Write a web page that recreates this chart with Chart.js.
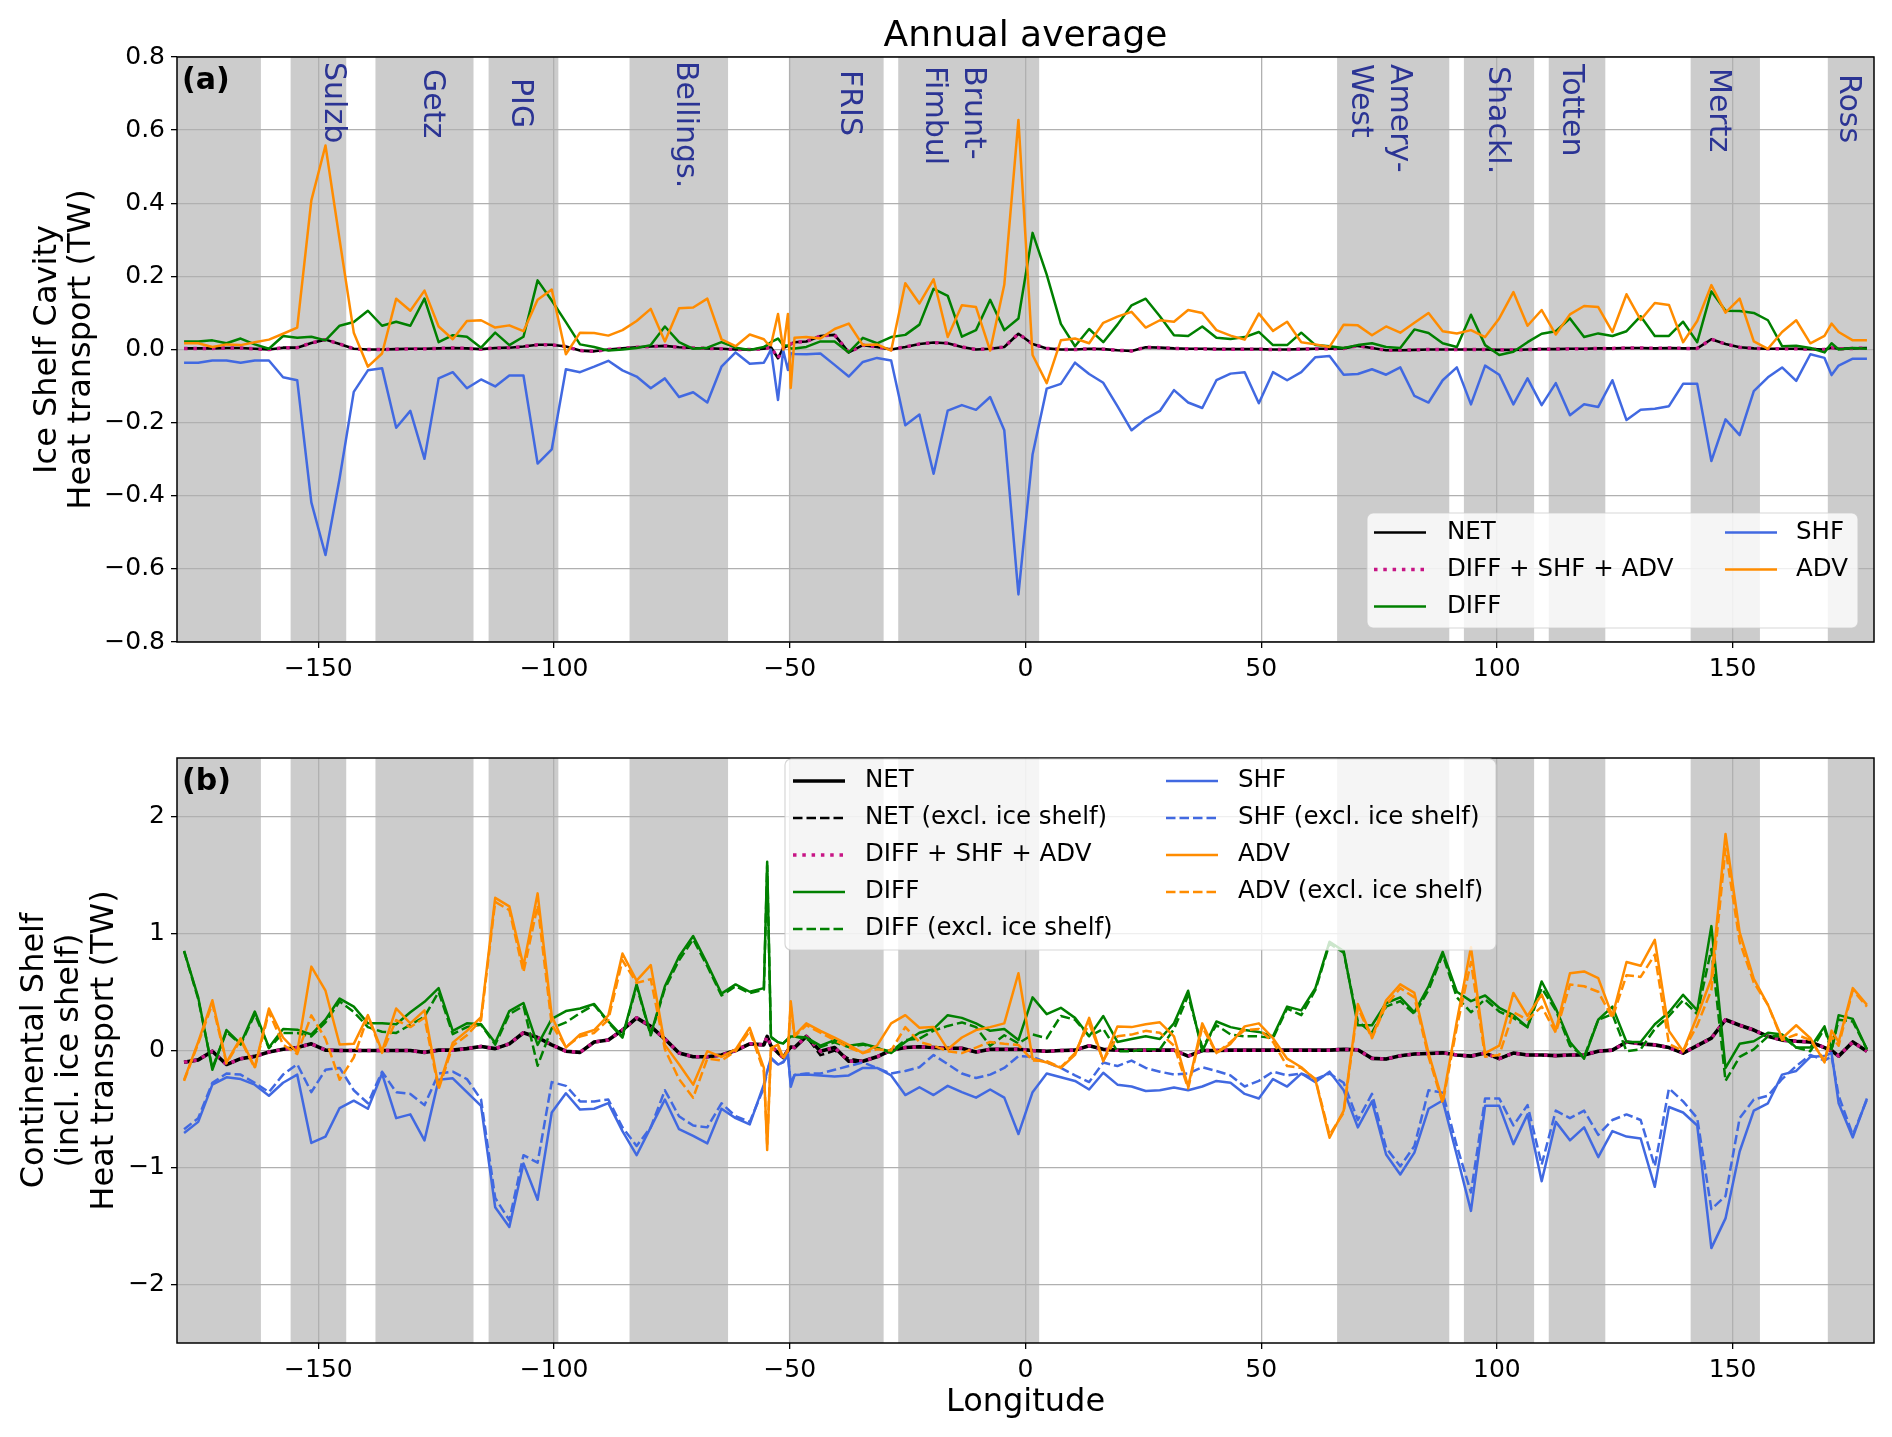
<!DOCTYPE html>
<html>
<head>
<meta charset="utf-8">
<title>Annual average</title>
<script src="https://cdn.jsdelivr.net/npm/chart.js@4.4.1/dist/chart.umd.min.js"></script>
<style>
  body { margin: 0; background: #fff; }
  #wrap { position: relative; width: 1892px; height: 1437px; }
  canvas { position: absolute; left: 0; }
</style>
</head>
<body>
<div id="wrap">
  <canvas id="panelA" width="1892" height="700" style="top:0px"></canvas>
  <canvas id="panelB" width="1892" height="737" style="top:700px"></canvas>
</div>
<script>
// longitude of every sample (3 degree bins, a few extra points round -52 and 171)
const lon = [
  -178.5, -175.5, -172.5, -169.5, -166.5, -163.5, -160.5, -157.5, -154.5, -151.5,
  -148.5, -145.5, -142.5, -139.5, -136.5, -133.5, -130.5, -127.5, -124.5, -121.5,
  -118.5, -115.5, -112.5, -109.5, -106.5, -103.5, -100.5, -97.5, -94.5, -91.5,
  -88.5, -85.5, -82.5, -79.5, -76.5, -73.5, -70.5, -67.5, -64.5, -61.5, -58.5, -55.5,
  -54.8, -54.0, -52.5, -51.4, -50.4, -49.8, -49.0,
  -46.5, -43.5, -40.5, -37.5, -34.5, -31.5, -28.5, -25.5, -22.5, -19.5, -16.5, -13.5, -10.5, -7.5, -4.5, -1.5,
  1.5, 4.5, 7.5, 10.5, 13.5, 16.5, 19.5, 22.5, 25.5, 28.5, 31.5, 34.5, 37.5, 40.5, 43.5,
  46.5, 49.5, 52.5, 55.5, 58.5, 61.5, 64.5, 67.5, 70.5, 73.5, 76.5, 79.5, 82.5, 85.5, 88.5,
  91.5, 94.5, 97.5, 100.5, 103.5, 106.5, 109.5, 112.5, 115.5, 118.5, 121.5, 124.5, 127.5, 130.5,
  133.5, 136.5, 139.5, 142.5, 145.5, 148.5, 151.5, 154.5, 157.5, 160.5, 163.5, 166.5, 169.5,
  171.0,
  172.5, 175.5, 178.5
];

// (a) ice shelf cavity, TW
const netA = [
  0.003, 0.003, 0.003, 0.004, 0.004, 0.002, 0.000, 0.005, 0.005, 0.018,
  0.027, 0.015, 0.002, 0.000, 0.000, 0.001, 0.002, 0.002, 0.003, 0.004,
  0.003, 0.001, 0.004, 0.005, 0.008, 0.013, 0.013, 0.008, -0.003, -0.005,
  0.000, 0.003, 0.006, 0.008, 0.010, 0.006, 0.004, 0.003, 0.002, 0.000, 0.000, 0.002,
  0.004, 0.006, -0.024, 0.004, 0.010, 0.015, 0.020,
  0.022, 0.037, 0.040, -0.008, 0.012, 0.007, 0.000, 0.007, 0.015, 0.019, 0.017, 0.007, 0.000, 0.002, 0.007, 0.043,
  0.015, 0.003, 0.000, 0.000, 0.002, 0.001, -0.002, -0.004, 0.006, 0.005, 0.003, 0.002, 0.002, 0.001, 0.001,
  0.001, 0.001, 0.000, 0.000, 0.001, 0.002, 0.002, 0.003, 0.010, 0.004, -0.002, -0.002, -0.001, 0.000, 0.000,
  0.000, 0.000, 0.000, -0.001, -0.001, 0.000, 0.001, 0.001, 0.002, 0.002, 0.003, 0.003, 0.004, 0.004,
  0.003, 0.004, 0.003, 0.003, 0.028, 0.015, 0.006, 0.003, 0.002, 0.002, 0.002, 0.001, 0.000,
  0.005,
  0.002, 0.003, 0.004
];
const diffA = [
  0.022, 0.022, 0.025, 0.017, 0.030, 0.014, 0.002, 0.037, 0.032, 0.035,
  0.025, 0.065, 0.075, 0.106, 0.065, 0.076, 0.065, 0.139, 0.020, 0.039,
  0.035, 0.005, 0.046, 0.012, 0.035, 0.189, 0.134, 0.075, 0.014, 0.007,
  -0.003, 0.000, 0.004, 0.012, 0.063, 0.020, 0.002, 0.005, 0.020, 0.005, -0.001, 0.007,
  0.012, 0.020, 0.030, 0.012, 0.010, 0.003, 0.003,
  0.007, 0.022, 0.022, -0.008, 0.032, 0.017, 0.034, 0.040, 0.068, 0.166, 0.147, 0.035, 0.053, 0.136, 0.053, 0.085,
  0.319, 0.205, 0.070, 0.009, 0.056, 0.020, 0.068, 0.121, 0.139, 0.091, 0.039, 0.037, 0.063, 0.032, 0.029,
  0.034, 0.048, 0.012, 0.012, 0.046, 0.012, 0.009, 0.004, 0.012, 0.017, 0.007, 0.004, 0.055, 0.045, 0.017,
  0.007, 0.095, 0.012, -0.015, -0.006, 0.020, 0.043, 0.050, 0.085, 0.034, 0.044, 0.037, 0.050, 0.091,
  0.037, 0.037, 0.076, 0.020, 0.159, 0.106, 0.105, 0.100, 0.080, 0.009, 0.010, 0.004, -0.008,
  0.017,
  0.000, 0.004, 0.002
];
const shfA = [
  -0.036, -0.036, -0.030, -0.030, -0.036, -0.030, -0.030, -0.076, -0.084, -0.418,
  -0.562, -0.352, -0.116, -0.057, -0.051, -0.214, -0.168, -0.299, -0.079, -0.062,
  -0.106, -0.082, -0.101, -0.071, -0.071, -0.312, -0.273, -0.054, -0.062, -0.047,
  -0.031, -0.057, -0.074, -0.106, -0.079, -0.130, -0.117, -0.145, -0.047, -0.008, -0.039, -0.036,
  -0.020, 0.000, -0.138, -0.002, -0.056, -0.010, -0.012,
  -0.013, -0.011, -0.042, -0.074, -0.034, -0.023, -0.030, -0.207, -0.178, -0.340, -0.167, -0.152, -0.165, -0.130, -0.221, -0.670,
  -0.287, -0.107, -0.094, -0.036, -0.067, -0.091, -0.155, -0.221, -0.190, -0.168, -0.111, -0.145, -0.160, -0.084, -0.066,
  -0.062, -0.147, -0.062, -0.084, -0.062, -0.021, -0.018, -0.069, -0.067, -0.054, -0.069, -0.049, -0.127, -0.145, -0.084,
  -0.049, -0.150, -0.044, -0.069, -0.150, -0.079, -0.152, -0.092, -0.180, -0.150, -0.157, -0.084, -0.193, -0.165,
  -0.162, -0.155, -0.094, -0.094, -0.305, -0.191, -0.234, -0.114, -0.076, -0.049, -0.086, -0.013, -0.023,
  -0.070,
  -0.044, -0.025, -0.025
];
const advA = [
  0.017, 0.017, 0.007, 0.014, 0.012, 0.020, 0.027, 0.043, 0.060, 0.408,
  0.558, 0.300, 0.046, -0.047, -0.011, 0.139, 0.106, 0.161, 0.063, 0.028,
  0.078, 0.080, 0.060, 0.066, 0.050, 0.136, 0.164, -0.013, 0.046, 0.045,
  0.038, 0.053, 0.078, 0.111, 0.022, 0.113, 0.115, 0.139, 0.028, 0.009, 0.041, 0.028,
  0.017, 0.012, 0.097, 0.000, 0.097, -0.105, 0.032,
  0.034, 0.030, 0.056, 0.071, 0.012, 0.014, -0.003, 0.181, 0.126, 0.192, 0.034, 0.121, 0.116, -0.003, 0.177, 0.628,
  -0.015, -0.092, 0.025, 0.030, 0.017, 0.073, 0.090, 0.103, 0.060, 0.080, 0.076, 0.108, 0.100, 0.053, 0.038,
  0.027, 0.098, 0.051, 0.076, 0.020, 0.014, 0.007, 0.068, 0.066, 0.039, 0.063, 0.046, 0.073, 0.100, 0.050,
  0.044, 0.053, 0.034, 0.085, 0.157, 0.065, 0.108, 0.041, 0.096, 0.119, 0.116, 0.048, 0.151, 0.081,
  0.127, 0.122, 0.020, 0.078, 0.176, 0.101, 0.139, 0.022, 0.002, 0.048, 0.080, 0.017, 0.037,
  0.071,
  0.048, 0.025, 0.025
];

// (b) continental shelf incl. ice shelf, TW ("x" = excl. ice shelf)
const netB = [
  -0.100, -0.080, -0.006, -0.120, -0.070, -0.050, -0.013, 0.010, 0.025, 0.057,
  0.003, 0.000, 0.000, 0.000, 0.000, 0.000, 0.000, -0.016, 0.003, 0.003,
  0.016, 0.035, 0.016, 0.057, 0.152, 0.111, 0.048, -0.006, -0.016, 0.073,
  0.089, 0.175, 0.279, 0.206, 0.098, -0.022, -0.054, -0.054, -0.038, 0.000, 0.057, 0.048,
  0.120, 0.040, -0.020, -0.060, 0.000, 0.030, 0.025,
  0.121, -0.006, 0.025, -0.092, -0.092, -0.054, 0.003, 0.025, 0.032, 0.025, 0.019, 0.019, -0.013, 0.010, 0.010, 0.010,
  0.000, -0.006, 0.000, 0.003, 0.041, 0.010, 0.003, 0.003, 0.003, 0.003, 0.003, -0.048, 0.000, 0.000, 0.003,
  0.003, 0.003, 0.003, 0.003, 0.003, 0.003, 0.003, 0.010, 0.006, -0.067, -0.073, -0.045, -0.030, -0.025, -0.020,
  -0.038, -0.048, -0.022, -0.070, -0.022, -0.038, -0.038, -0.044, -0.038, -0.038, -0.006, 0.003, 0.073, 0.057,
  0.048, 0.025, -0.022, 0.041, 0.105, 0.263, 0.216, 0.175, 0.121, 0.089, 0.079, 0.073, 0.025,
  0.000,
  -0.048, 0.073, -0.006
];
const netBx = [
  -0.100, -0.080, -0.006, -0.120, -0.070, -0.050, -0.013, 0.010, 0.025, 0.057,
  0.003, 0.000, 0.000, 0.000, 0.000, 0.000, 0.000, -0.016, 0.003, 0.003,
  0.016, 0.035, 0.016, 0.057, 0.152, 0.111, 0.048, -0.006, -0.016, 0.073,
  0.089, 0.175, 0.279, 0.206, 0.098, -0.022, -0.054, -0.054, -0.038, 0.000, 0.057, 0.048,
  0.120, 0.040, -0.020, -0.060, 0.000, 0.030, 0.025,
  0.121, -0.040, 0.000, -0.070, -0.092, -0.054, 0.003, 0.025, 0.032, 0.025, 0.019, 0.019, -0.013, 0.010, 0.010, 0.010,
  0.000, -0.006, 0.000, 0.003, 0.041, 0.010, 0.003, 0.003, 0.003, 0.003, 0.003, -0.048, 0.000, 0.000, 0.003,
  0.003, 0.003, 0.003, 0.003, 0.003, 0.003, 0.003, 0.010, 0.006, -0.067, -0.073, -0.045, -0.030, -0.025, -0.020,
  -0.038, -0.048, -0.022, -0.070, -0.022, -0.038, -0.038, -0.044, -0.038, -0.038, -0.006, 0.003, 0.073, 0.057,
  0.048, 0.025, -0.022, 0.041, 0.105, 0.263, 0.216, 0.175, 0.121, 0.089, 0.079, 0.073, 0.025,
  0.000,
  -0.048, 0.073, -0.006
];
const diffB = [
  0.851, 0.454, -0.165, 0.175, 0.057, 0.333, 0.025, 0.184, 0.178, 0.137,
  0.263, 0.444, 0.375, 0.232, 0.232, 0.225, 0.327, 0.416, 0.533, 0.168,
  0.232, 0.225, 0.067, 0.337, 0.406, 0.048, 0.270, 0.337, 0.359, 0.397,
  0.248, 0.121, 0.565, 0.137, 0.549, 0.803, 0.978, 0.740, 0.486, 0.565, 0.502, 0.533,
  1.614, 0.118, 0.070, 0.060, 0.100, 0.120, 0.120,
  0.111, 0.041, 0.089, 0.041, 0.057, 0.025, -0.022, 0.073, 0.152, 0.184, 0.302, 0.279, 0.232, 0.168, 0.184, 0.089,
  0.454, 0.311, 0.365, 0.279, 0.121, 0.295, 0.073, 0.098, 0.121, 0.098, 0.232, 0.511, -0.006, 0.248, 0.200,
  0.175, 0.159, 0.121, 0.375, 0.343, 0.533, 0.930, 0.851, 0.216, 0.216, 0.406, 0.454, 0.327, 0.549, 0.843,
  0.502, 0.422, 0.470, 0.365, 0.302, 0.200, 0.590, 0.359, 0.073, -0.070, 0.263, 0.375, 0.073, 0.073,
  0.225, 0.327, 0.476, 0.343, 1.063, -0.149, 0.057, 0.079, 0.152, 0.137, 0.025, 0.025, 0.206,
  0.010,
  0.302, 0.270, 0.010
];
const diffBx = [
  0.850, 0.440, -0.150, 0.160, 0.050, 0.310, 0.020, 0.150, 0.150, 0.120,
  0.240, 0.420, 0.330, 0.200, 0.160, 0.150, 0.220, 0.290, 0.500, 0.140,
  0.200, 0.220, 0.050, 0.310, 0.380, -0.130, 0.190, 0.240, 0.320, 0.390,
  0.240, 0.110, 0.550, 0.130, 0.530, 0.770, 0.950, 0.720, 0.470, 0.550, 0.490, 0.520,
  1.580, 0.110, 0.070, 0.060, 0.100, 0.120, 0.120,
  0.100, 0.030, 0.070, 0.030, 0.050, 0.020, -0.010, 0.090, 0.100, 0.170, 0.210, 0.240, 0.200, 0.040, 0.130, 0.060,
  0.137, 0.105, 0.295, 0.263, 0.121, 0.184, -0.006, -0.006, 0.010, 0.010, 0.184, 0.470, 0.025, 0.216, 0.137,
  0.121, 0.121, 0.105, 0.359, 0.302, 0.517, 0.914, 0.835, 0.248, 0.152, 0.375, 0.422, 0.311, 0.517, 0.819,
  0.454, 0.327, 0.438, 0.333, 0.279, 0.200, 0.533, 0.343, 0.041, -0.054, 0.263, 0.311, -0.006, 0.010,
  0.184, 0.295, 0.429, 0.311, 0.867, -0.260, -0.054, 0.010, 0.121, 0.121, 0.025, -0.006, 0.184,
  0.000,
  0.263, 0.248, 0.010
];
const shfB = [
  -0.705, -0.610, -0.292, -0.229, -0.244, -0.292, -0.387, -0.276, -0.206, -0.790,
  -0.736, -0.492, -0.429, -0.498, -0.197, -0.578, -0.546, -0.768, -0.251, -0.238,
  -0.356, -0.473, -1.340, -1.508, -0.965, -1.276, -0.530, -0.365, -0.505, -0.498,
  -0.450, -0.689, -0.895, -0.657, -0.419, -0.673, -0.730, -0.794, -0.498, -0.578, -0.632, -0.290,
  -0.180, -0.060, -0.120, -0.100, -0.030, -0.310, -0.210,
  -0.206, -0.213, -0.222, -0.213, -0.149, -0.149, -0.213, -0.381, -0.314, -0.381, -0.302, -0.356, -0.403, -0.333, -0.403, -0.714,
  -0.356, -0.197, -0.229, -0.260, -0.333, -0.190, -0.292, -0.308, -0.346, -0.340, -0.317, -0.340, -0.308, -0.260, -0.276,
  -0.371, -0.410, -0.244, -0.308, -0.197, -0.270, -0.181, -0.340, -0.657, -0.435, -0.889, -1.060, -0.873, -0.498, -0.427,
  -0.895, -1.371, -0.473, -0.473, -0.800, -0.546, -1.117, -0.610, -0.768, -0.657, -0.911, -0.689, -0.736, -0.752,
  -1.165, -0.483, -0.530, -0.641, -1.689, -1.435, -0.863, -0.514, -0.451, -0.206, -0.175, -0.054, -0.048,
  -0.020,
  -0.451, -0.743, -0.410
];
const shfBx = [
  -0.673, -0.578, -0.276, -0.197, -0.206, -0.276, -0.356, -0.206, -0.117, -0.356,
  -0.165, -0.149, -0.340, -0.451, -0.181, -0.356, -0.371, -0.467, -0.197, -0.181,
  -0.244, -0.419, -1.260, -1.451, -0.895, -0.959, -0.270, -0.302, -0.435, -0.435,
  -0.419, -0.657, -0.816, -0.657, -0.340, -0.562, -0.641, -0.657, -0.451, -0.562, -0.610, -0.320,
  -0.180, -0.070, -0.120, -0.100, -0.040, -0.280, -0.210,
  -0.197, -0.197, -0.165, -0.133, -0.102, -0.149, -0.197, -0.175, -0.143, -0.038, -0.117, -0.197, -0.235, -0.206, -0.149, -0.048,
  -0.054, -0.102, -0.149, -0.213, -0.270, -0.102, -0.133, -0.086, -0.149, -0.181, -0.206, -0.197, -0.143, -0.175, -0.213,
  -0.308, -0.260, -0.181, -0.213, -0.197, -0.244, -0.197, -0.276, -0.594, -0.371, -0.832, -0.990, -0.816, -0.340, -0.360,
  -0.816, -1.213, -0.410, -0.410, -0.641, -0.467, -0.975, -0.514, -0.578, -0.514, -0.721, -0.594, -0.546, -0.594,
  -0.990, -0.324, -0.435, -0.578, -1.356, -1.244, -0.578, -0.419, -0.387, -0.244, -0.133, -0.038, -0.086,
  -0.050,
  -0.387, -0.721, -0.419
];
const advB = [
  -0.251, 0.073, 0.429, -0.102, 0.105, -0.143, 0.359, 0.111, -0.016, 0.717,
  0.511, 0.051, 0.057, 0.302, -0.006, 0.359, 0.232, 0.343, -0.314, 0.067,
  0.168, 0.286, 1.305, 1.232, 0.724, 1.343, 0.295, 0.025, 0.137, 0.175,
  0.300, 0.829, 0.597, 0.730, 0.048, -0.117, -0.292, -0.006, -0.054, 0.010, 0.194, -0.149,
  -0.850, 0.020, 0.050, -0.060, 0.000, 0.420, 0.130,
  0.232, 0.168, 0.111, 0.048, -0.022, 0.041, 0.232, 0.302, 0.194, 0.200, 0.010, 0.111, 0.175, 0.200, 0.232, 0.660,
  -0.070, -0.102, -0.149, -0.038, 0.279, -0.092, 0.206, 0.200, 0.225, 0.241, 0.121, -0.308, 0.232, -0.022, 0.057,
  0.206, 0.232, 0.105, -0.070, -0.143, -0.251, -0.746, -0.514, 0.397, 0.111, 0.429, 0.565, 0.492, -0.022, -0.430,
  0.250, 0.883, -0.022, 0.041, 0.492, 0.295, 0.479, 0.175, 0.660, 0.676, 0.619, 0.295, 0.756, 0.724,
  0.946, 0.168, -0.006, 0.295, 0.613, 1.851, 1.010, 0.613, 0.390, 0.105, 0.216, 0.105, -0.102,
  0.170,
  0.073, 0.533, 0.390
];
const advBx = [
  -0.260, 0.060, 0.400, -0.110, 0.090, -0.150, 0.330, 0.050, -0.030, 0.300,
  0.100, -0.250, -0.060, 0.290, -0.020, 0.260, 0.200, 0.280, -0.330, 0.040,
  0.130, 0.260, 1.270, 1.200, 0.670, 1.240, 0.220, 0.030, 0.120, 0.150,
  0.263, 0.771, 0.578, 0.610, 0.010, -0.244, -0.403, -0.070, -0.086, -0.006, 0.168, -0.181,
  -0.800, 0.000, 0.030, -0.070, 0.000, 0.380, 0.120,
  0.216, 0.152, 0.089, 0.025, -0.022, 0.010, 0.000, 0.200, 0.073, 0.041, -0.006, -0.022, 0.025, 0.073, 0.057, 0.048,
  -0.086, -0.092, -0.143, -0.022, 0.232, -0.086, 0.121, 0.136, 0.168, 0.152, 0.041, -0.324, 0.200, -0.022, 0.073,
  0.175, 0.184, 0.073, -0.133, -0.149, -0.244, -0.721, -0.530, 0.365, 0.105, 0.390, 0.533, 0.454, -0.054, -0.450,
  0.200, 0.756, -0.054, -0.038, 0.327, 0.263, 0.375, 0.152, 0.565, 0.549, 0.502, 0.279, 0.644, 0.629,
  0.819, 0.057, -0.006, 0.216, 0.517, 1.724, 0.930, 0.581, 0.390, 0.089, 0.137, 0.089, -0.086,
  0.120,
  0.041, 0.517, 0.375
];

const xTicks = [-150, -100, -50, 0, 50, 100, 150];
const yTicksA = [-0.8, -0.6, -0.4, -0.2, 0, 0.2, 0.4, 0.6, 0.8];
const yTicksB = [-2, -1, 0, 1, 2];

// ice shelf longitude ranges (grey) and their names
const shelfBands = [
  [-180, -162.2], [-155.9, -144.1], [-137.9, -117.1], [-113.9, -99.1], [-84.0, -63.1], [-50.2, -30.1],
  [-27.0, 2.9], [66.1, 89.9], [93.0, 107.9], [111.0, 123.0], [141.1, 155.8], [170.2, 180]
];
const shelfNames = [['Sulzb'], ['Getz'], ['PIG'], ['Bellings.'], ['FRIS'], ['Brunt-', 'Fimbul'],
  ['Amery-', 'West'], ['Shackl.'], ['Totten'], ['Mertz'], ['Ross']];
const shelfNameLon = [-147.0, -126.0, -107.2, -72.3, -37.5, -15.4, 75.1, 99.9, 115.6, 146.9, 174.5];

for (const [k, v] of Object.entries({netA, diffA, shfA, advA, netB, netBx, diffB, diffBx, shfB, shfBx, advB, advBx})) {
  if (v.length !== lon.length) throw new Error(k + ' has ' + v.length + ' values, lon has ' + lon.length);
}

const FONT = '"DejaVu Sans", sans-serif';
const shelfTop = [5, 12, 21, 4, 13, 9, 7, 9, 7, 11, 17];  // px below the frame
const pts = ys => lon.map((x, i) => ({ x: x, y: ys[i] }));
const minus = s => String(s).replace('-', '\u2212');

function line(label, ys, color, width, dash) {
  return { label, data: pts(ys), borderColor: color, borderWidth: width, borderDash: dash || [],
           borderJoinStyle: 'round', pointRadius: 0, fill: false, tension: 0 };
}

function rotatedText(ctx, text, x, y, angle, font, color, align, baseline) {
  ctx.save();
  ctx.translate(x, y);
  ctx.rotate(angle);
  ctx.font = font;
  ctx.fillStyle = color;
  ctx.textAlign = align;
  ctx.textBaseline = baseline;
  ctx.fillText(text, 0, 0);
  ctx.restore();
}

function drawLegend(ctx, datasets, lg) {
  ctx.save();
  ctx.beginPath();
  ctx.roundRect(lg.x, lg.y, lg.w, lg.h, 6);
  ctx.fillStyle = 'rgba(255,255,255,0.8)';
  ctx.fill();
  ctx.lineWidth = 1.2;
  ctx.strokeStyle = 'rgba(204,204,204,0.8)';
  ctx.stroke();
  const rows = Math.ceil(datasets.length / 2);
  ctx.font = '24.5px ' + FONT;
  ctx.textBaseline = 'middle';
  ctx.textAlign = 'left';
  datasets.forEach((ds, k) => {
    const col = Math.floor(k / rows), row = k % rows;
    const y = lg.row0 + row * lg.rowStep;
    ctx.beginPath();
    ctx.setLineDash(ds.borderDash);
    ctx.lineWidth = ds.borderWidth;
    ctx.strokeStyle = ds.borderColor;
    ctx.moveTo(lg.handleX[col], y);
    ctx.lineTo(lg.handleX[col] + 52, y);
    ctx.stroke();
    ctx.setLineDash([]);
    ctx.fillStyle = '#000';
    ctx.fillText(ds.label, lg.textX[col], y);
  });
  ctx.restore();
}

function decor(cfg) {
  return {
    id: 'decor',
    beforeDraw(chart) {
      const { ctx, chartArea: a, scales: { x } } = chart;
      ctx.save();
      ctx.fillStyle = '#fff';
      ctx.fillRect(0, 0, chart.width, chart.height);
      ctx.fillStyle = '#cccccc';
      shelfBands.forEach(([l, r]) => {
        const x0 = Math.max(x.getPixelForValue(l), a.left);
        const x1 = Math.min(x.getPixelForValue(r), a.right);
        ctx.fillRect(x0, a.top, x1 - x0, a.bottom - a.top);
      });
      ctx.restore();
    },
    afterDraw(chart) {
      const { ctx, chartArea: a, scales: { x } } = chart;
      ctx.save();
      ctx.lineWidth = 1.5;
      ctx.strokeStyle = '#000';
      ctx.strokeRect(a.left, a.top, a.right - a.left, a.bottom - a.top);
      ctx.restore();

      if (cfg.names) {
        shelfNames.forEach((lines, k) => {
          const cx = x.getPixelForValue(shelfNameLon[k]);
          lines.forEach((t, j) => {
            const px = cx + (lines.length - 1) * 19.5 - j * 39;
            rotatedText(ctx, t, px, a.top + shelfTop[k], Math.PI / 2, '30px ' + FONT, '#2b3494', 'left', 'middle');
          });
        });
      }

      rotatedText(ctx, cfg.letter, a.left + 5, a.top + 24, 0, 'bold 30px ' + FONT, '#000', 'left', 'middle');

      const cy = (a.top + a.bottom) / 2;
      cfg.yTitle.forEach((t, i) => rotatedText(ctx, t, cfg.yTitleX[i], cy, -Math.PI / 2, '32px ' + FONT, '#000', 'center', 'middle'));

      if (cfg.title) rotatedText(ctx, cfg.title, (a.left + a.right) / 2, cfg.titleY, 0, '36px ' + FONT, '#000', 'center', 'middle');
      if (cfg.xTitle) rotatedText(ctx, cfg.xTitle, (a.left + a.right) / 2, cfg.xTitleY, 0, '32px ' + FONT, '#000', 'center', 'middle');

      drawLegend(ctx, chart.data.datasets, cfg.legend);
    }
  };
}

function makeChart(id, datasets, yMin, yMax, yTicks, yFmt, topPad, xHeight, cfg) {
  datasets.forEach((ds, i) => { ds.order = datasets.length - i; });
  const tickFont = { family: 'DejaVu Sans', size: 25 };
  const grid = { color: '#b0b0b0', lineWidth: 1.3, drawTicks: true, tickLength: 6, tickColor: '#000', tickWidth: 1.3 };
  return new Chart(document.getElementById(id), {
    type: 'line',
    data: { datasets },
    options: {
      responsive: false,
      devicePixelRatio: 1,
      animation: false,
      events: [],
      layout: { padding: { top: topPad, right: 18, left: 0, bottom: 0 } },
      plugins: { legend: { display: false }, tooltip: { enabled: false } },
      scales: {
        x: {
          type: 'linear', min: -180, max: 180,
          grid, border: { display: false },
          afterBuildTicks: s => { s.ticks = xTicks.map(v => ({ value: v })); },
          afterFit: s => { s.height = xHeight; },
          ticks: { font: tickFont, color: '#000', padding: 6, maxRotation: 0, autoSkip: false, callback: v => minus(v) }
        },
        y: {
          type: 'linear', min: yMin, max: yMax,
          grid, border: { display: false },
          afterBuildTicks: s => { s.ticks = yTicks.map(v => ({ value: v })); },
          afterFit: s => { s.width = 177; },
          ticks: { font: tickFont, color: '#000', padding: 6, autoSkip: false, callback: v => minus(yFmt(v)) }
        }
      }
    },
    plugins: [decor(cfg)]
  });
}

const dotted = [3.5, 5.8];
const dashed = [9.5, 4];

makeChart('panelA', [
  line('NET', netA, '#000000', 2.6),
  line('DIFF + SHF + ADV', netA, '#c71585', 3.5, dotted),
  line('DIFF', diffA, '#008000', 2.5),
  line('SHF', shfA, '#4169e1', 2.5),
  line('ADV', advA, '#ff8c00', 2.5)
], -0.8, 0.8, yTicksA, v => v.toFixed(1), 57, 58, {
  names: true,
  letter: '(a)',
  title: 'Annual average', titleY: 37,
  yTitle: ['Ice Shelf Cavity', 'Heat transport (TW)'], yTitleX: [48, 82],
  legend: { x: 1367, y: 513, w: 491, h: 115, row0: 532.5, rowStep: 37, handleX: [1374, 1725], textX: [1447, 1796] }
});

makeChart('panelB', [
  line('NET', netB, '#000000', 3.6),
  line('NET (excl. ice shelf)', netBx, '#000000', 2.5, dashed),
  line('DIFF + SHF + ADV', netB, '#c71585', 3.5, dotted),
  line('DIFF', diffB, '#008000', 2.5),
  line('DIFF (excl. ice shelf)', diffBx, '#008000', 2.5, dashed),
  line('SHF', shfB, '#4169e1', 2.5),
  line('SHF (excl. ice shelf)', shfBx, '#4169e1', 2.5, dashed),
  line('ADV', advB, '#ff8c00', 2.5),
  line('ADV (excl. ice shelf)', advBx, '#ff8c00', 2.5, dashed)
], -2.5, 2.5, yTicksB, v => String(v), 58, 94, {
  names: false,
  letter: '(b)',
  xTitle: 'Longitude', xTitleY: 703,
  yTitle: ['Continental Shelf', '(incl. ice shelf)', 'Heat transport (TW)'], yTitleX: [35, 70, 105],
  legend: { x: 785, y: 59, w: 711, h: 191, row0: 81, rowStep: 37, handleX: [793, 1166], textX: [865, 1238] }
});
</script>
</body>
</html>
